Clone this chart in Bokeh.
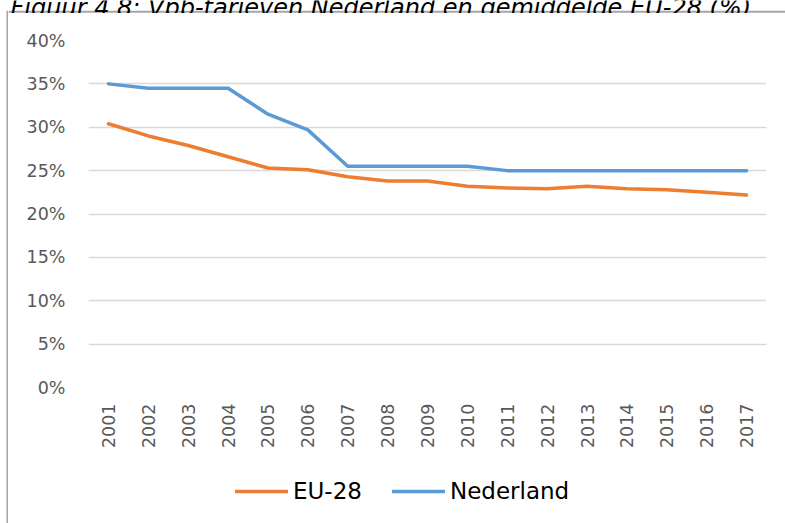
import math
from bokeh.plotting import figure
from bokeh.layouts import column, row
from bokeh.models import Range1d, FixedTicker, Legend, LegendItem, Label, BoxAnnotation
from bokeh.embed import file_html
from bokeh.resources import INLINE

# ---- data ----
years = ["2001", "2002", "2003", "2004", "2005", "2006", "2007", "2008", "2009",
         "2010", "2011", "2012", "2013", "2014", "2015", "2016", "2017"]
eu28 = [30.4, 29.0, 27.9, 26.6, 25.3, 25.1, 24.3, 23.8, 23.8,
        23.2, 23.0, 22.9, 23.2, 22.9, 22.8, 22.5, 22.2]
nederland = [35.0, 34.5, 34.5, 34.5, 31.5, 29.7, 25.5, 25.5, 25.5,
             25.5, 25.0, 25.0, 25.0, 25.0, 25.0, 25.0, 25.0]
y_ticks = [0, 5, 10, 15, 20, 25, 30, 35, 40]
y_tick_labels = ["0%", "5%", "10%", "15%", "20%", "25%", "30%", "35%", "40%"]
series_names = ["EU-28", "Nederland"]
series_colors = ["#ED7D31", "#5B9BD5"]
caption = "Figuur 4.8: Vpb-tarieven Nederland en gemiddelde EU-28 (%)"

FONT = "DejaVu Sans"
BORDER = "#a6a6a6"
LINE_W = 3.5


def bare(width, height, xr, yr):
    f = figure(width=width, height=height, x_range=xr, y_range=yr,
               output_backend="svg", toolbar_location=None, title_location=None,
               x_axis_type=None, y_axis_type=None,
               min_border_left=0, min_border_right=0,
               min_border_top=0, min_border_bottom=0)
    f.frame_align = False
    f.outline_line_color = None
    f.background_fill_color = "white"
    f.border_fill_color = "white"
    f.grid.visible = False
    return f


# ---- left strip: cropped frame of the original chart box ----
strip = bare(8, 523, Range1d(0, 8), Range1d(523, 0))
strip.add_layout(BoxAnnotation(left=6, right=8, top=10.3, bottom=523,
                               fill_color=BORDER, fill_alpha=1, line_color=None))

# ---- caption strip (cropped at the top in the reference) ----
cap = bare(777, 13, Range1d(0, 777), Range1d(13, 0))
cap.add_layout(BoxAnnotation(left=0, right=777, top=10.3, bottom=12.3,
                             fill_color=BORDER, fill_alpha=1, line_color=None))
cap.add_layout(Label(x=2, y=7.5, text=caption, text_font=FONT,
                     text_font_style="italic", text_font_size="24px",
                     text_color="black", text_baseline="alphabetic",
                     text_align="left"))

# ---- main chart ----
p = figure(width=777, height=447, x_range=years, y_range=Range1d(0, 40),
           output_backend="svg", toolbar_location=None, title_location=None,
           min_border_left=80, min_border_right=19,
           min_border_top=27, min_border_bottom=73)
p.frame_align = False
p.outline_line_color = None
p.background_fill_color = "white"
p.border_fill_color = "white"

p.xgrid.grid_line_color = None
p.ygrid.grid_line_color = "#d9d9d9"
p.ygrid.grid_line_width = 1.5

p.yaxis.ticker = FixedTicker(ticks=y_ticks)
p.yaxis.major_label_overrides = dict(zip(y_ticks, y_tick_labels))
p.yaxis.axis_line_color = None
p.yaxis.major_tick_line_color = None
p.yaxis.minor_tick_line_color = None
p.yaxis.major_tick_out = 0
p.yaxis.major_tick_in = 0
p.yaxis.major_label_standoff = 23
p.yaxis.major_label_text_font = FONT
p.yaxis.major_label_text_font_size = "17.5px"
p.yaxis.major_label_text_color = "#595959"

p.xaxis.axis_line_color = None
p.xaxis.major_tick_line_color = None
p.xaxis.minor_tick_line_color = None
p.xaxis.major_tick_out = 0
p.xaxis.major_tick_in = 0
p.xaxis.major_label_standoff = 16
p.xaxis.major_label_orientation = math.pi / 2
p.xaxis.major_label_text_font = FONT
p.xaxis.major_label_text_font_size = "17.5px"
p.xaxis.major_label_text_color = "#595959"

p.line(years, eu28, line_color=series_colors[0], line_width=LINE_W,
       line_cap="round", line_join="round")
p.line(years, nederland, line_color=series_colors[1], line_width=LINE_W,
       line_cap="round", line_join="round")

# ---- legend strip (swatch renderers hold a point outside the visible range) ----
leg = bare(777, 63, Range1d(0, 1), Range1d(0, 1))
items = []
for name, col in zip(series_names, series_colors):
    r = leg.line([-10, -9], [-10, -10], line_color=col, line_width=LINE_W,
                 line_cap="round")
    items.append(LegendItem(label=name, renderers=[r]))
legend = Legend(items=items, orientation="horizontal", location=(227, 19.5),
                glyph_width=53, glyph_height=20, label_standoff=5, spacing=30,
                padding=0, margin=0, border_line_color=None,
                background_fill_alpha=0,
                label_text_font=FONT, label_text_font_size="23px",
                label_text_color="black")
leg.add_layout(legend)

layout = row(strip, column(cap, p, leg, spacing=0), spacing=0)

html = file_html(layout, INLINE)
html = html.replace("<body>", '<body style="margin:0">', 1)
open("out.html", "w").write(html)
